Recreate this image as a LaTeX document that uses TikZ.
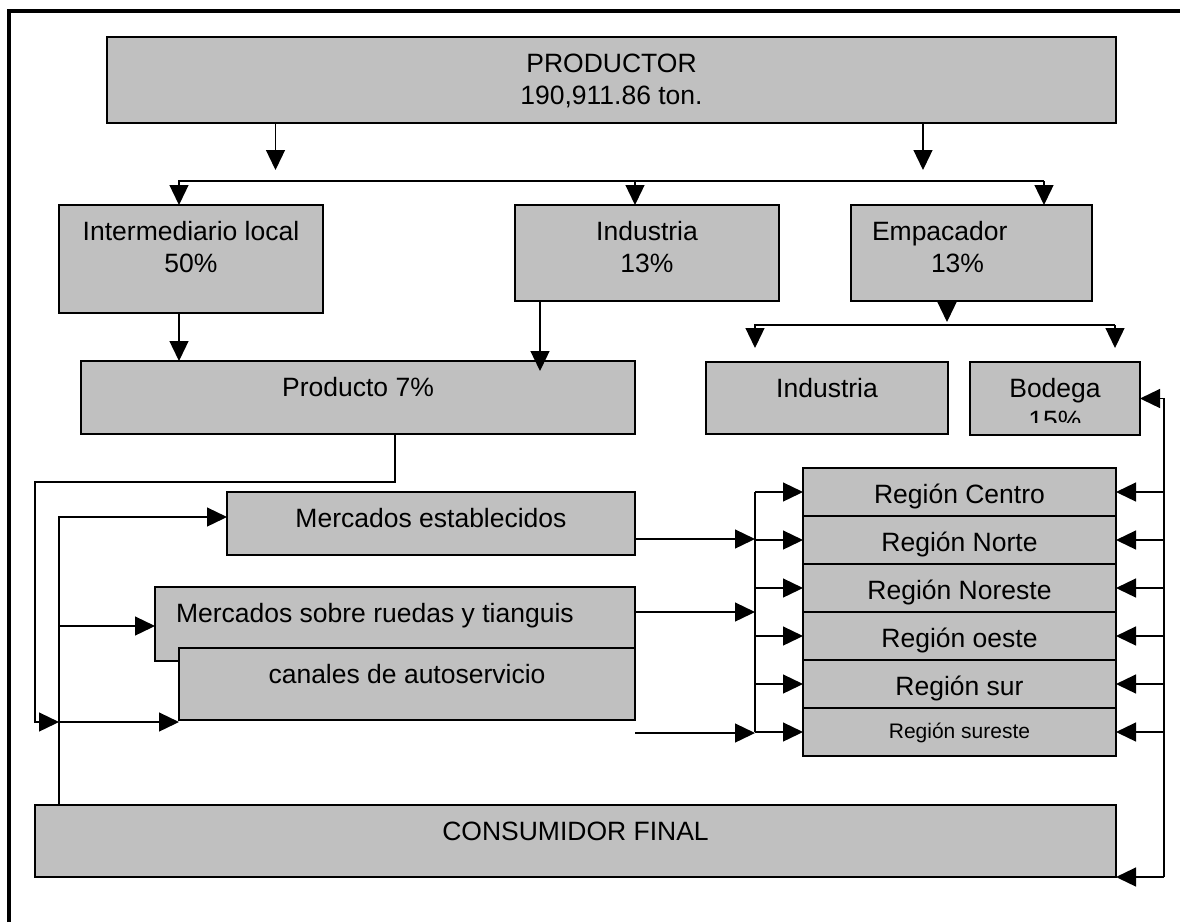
\documentclass[tikz,border=0pt]{standalone}
\usepackage{fontspec}
\setmainfont{Liberation Sans}
\usepackage{xcolor}
\usepackage{tikz}
\usetikzlibrary{arrows.meta, positioning}
\definecolor{boxgray}{HTML}{C0C0C0}
\tikzstyle{block} = [rectangle, draw=black, fill=boxgray, line width=1.3pt, inner sep=0pt, outer sep=0pt, text height=35pt, font=\fontsize{26.5}{32}\selectfont]
\tikzstyle{region} = [block, minimum width=313pt, minimum height=48pt, text depth=13pt]
\tikzstyle{wire} = [line width=1.3pt]
\tikzstyle{arrow} = [line width=1.3pt, -{Triangle[length=20pt,width=19pt]}]
\tikzstyle{frame} = [line width=4pt]

\begin{document}
\begin{tikzpicture}[x=1pt, y=-1pt]
    \useasboundingbox (0,0) rectangle (1180,922);
    \draw [frame] (9,922) -- (9,11) -- (1180,11);
    % Nodes
    \node (prod) [block, minimum width=1009pt, minimum height=86pt, text depth=51pt] at (611.5,80) {\parbox[t]{1009pt}{\centering PRODUCTOR\\190,911.86 ton.}};
    \node (inter) [block, minimum width=264pt, minimum height=108pt, text depth=73pt] at (191,259) {\parbox[t]{264pt}{\centering Intermediario local\\50\%}};
    \node (ind1) [block, minimum width=264pt, minimum height=96pt, text depth=61pt] at (647,253) {\parbox[t]{264pt}{\centering Industria\\13\%}};
    \node (emp) [block, minimum width=241pt, minimum height=96pt, text depth=61pt] at (971.5,253) {\parbox[t]{241pt}{\hspace*{21pt}Empacador\\\hspace*{80pt}13\%}};
    \node (prodct) [block, minimum width=554pt, minimum height=73pt, text depth=38pt] at (358,397.5) {Producto 7\%};
    \node (ind2) [block, minimum width=242pt, minimum height=72pt, text depth=37pt] at (827,398) {Industria};
    \node (bodega) [block, minimum width=170pt, minimum height=73pt, text depth=38pt] at (1055,398.5) {\parbox[t]{170pt}{\centering Bodega\\15\%}};
    \fill [boxgray] ([shift={(1pt,1pt)}]bodega.south west) rectangle ([shift={(-1pt,12pt)}]bodega.south east);
    \node (merc) [block, minimum width=408pt, minimum height=63pt, text depth=28pt] at (431,523.5) {Mercados establecidos};
    \node (ruedas) [block, minimum width=480pt, minimum height=74pt, text depth=39pt] at (395,624) {\parbox[t]{480pt}{\hspace*{21pt}Mercados sobre ruedas y tianguis}};
    \node (canal) [block, minimum width=456pt, minimum height=72pt, text depth=37pt] at (407,684) {canales de autoservicio};
    \node (r1) [region] at (959.5,492) {Región Centro};
    \node (r2) [region, below=0pt of r1] {Región Norte};
    \node (r3) [region, below=0pt of r2] {Región Noreste};
    \node (r4) [region, below=0pt of r3] {Región oeste};
    \node (r5) [region, below=0pt of r4] {Región sur};
    \node (r6) [region, below=0pt of r5, text height=30pt, text depth=18pt, font=\fontsize{21}{25}\selectfont] {Región sureste};
    \node (cons) [block, minimum width=1081pt, minimum height=72pt, text depth=37pt] at (575.5,841) {CONSUMIDOR FINAL};
    % Arrows
    \coordinate (busA) at (179,181);
    \coordinate (busB) at (1044,181);
    \coordinate (busC) at (755,325);
    \coordinate (busD) at (1115,325);
    \coordinate (feedA) at (59,517);
    \coordinate (feedB) at (59,626);
    \coordinate (feedC) at (59,722);
    \coordinate (loose) at (635,733);
    \coordinate (regL) at (755,492);
    \coordinate (regR) at (1164,398);
    \draw [arrow] ([xshift=-336pt]prod.south) -- ++(0,47);
    \draw [arrow] ([xshift=311.5pt]prod.south) -- ++(0,47);
    \draw [arrow] (busB) -- (busA) -- (inter.north -| busA);
    \draw [arrow] ([xshift=-12pt]ind1.north |- busA) -- ([xshift=-12pt]ind1.north);
    \draw [arrow] (busB) -- (emp.north -| busB);
    \draw [arrow] (inter.south -| busA) -- (prodct.north -| busA);
    \draw [arrow] ([xshift=-107pt]ind1.south) -- ++(0,70);
    \draw [arrow] ([xshift=-24.5pt]emp.south) -- ++(0,21);
    \draw [arrow] (busD) -- (busC) -- ++(0,23);
    \draw [arrow] (busD) -- ++(0,23);
    \draw [arrow] ([xshift=37pt]prodct.south) -- ++(0,48) -| ([xshift=-24pt]feedC) -- (feedC);
    \draw [arrow] (cons.north -| feedA) -- (feedA) -- (merc.west |- feedA);
    \draw [arrow] (feedB) -- (ruedas.west |- feedB);
    \draw [arrow] (feedC) -- (canal.west |- feedC);
    \draw [wire] (r1.west -| regL) -- (r6.west -| regL);
    \foreach \i in {1,...,6} \draw [arrow] (r\i.west -| regL) -- (r\i.west);
    \draw [arrow] ([yshift=-15.5pt]merc.east) -- ([yshift=-15.5pt]merc.east -| regL);
    \draw [arrow] ([yshift=12pt]ruedas.east) -- ([yshift=12pt]ruedas.east -| regL);
    \draw [arrow] (loose) -- (loose -| regL);
    \draw [arrow] (cons.south east -| regR) -- (bodega.east -| regR) -- (bodega.east);
    \foreach \i in {1,...,6} \draw [arrow] (r\i.east -| regR) -- (r\i.east);
    \draw [arrow] (cons.south east -| regR) -- (cons.south east);
\end{tikzpicture}
\end{document}
